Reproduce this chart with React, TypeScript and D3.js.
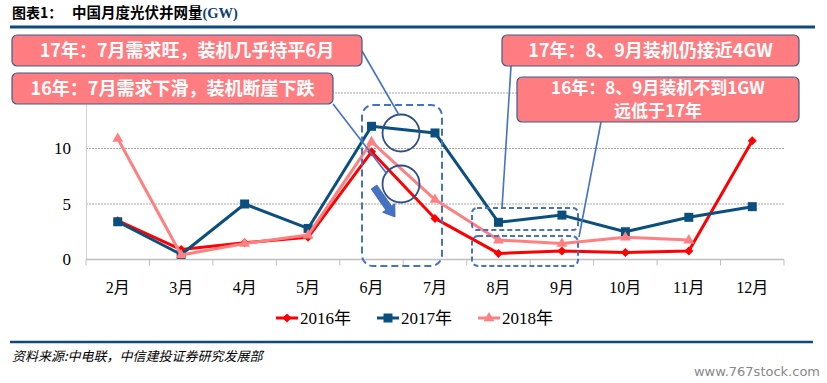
import React from "react";
import * as d3 from "d3";

const months = ["2月", "3月", "4月", "5月", "6月", "7月", "8月", "9月", "10月", "11月", "12月"];
const s2016 = [3.5, 0.9, 1.5, 2.0, 9.7, 3.7, 0.55, 0.77, 0.62, 0.77, 10.7];
const s2017 = [3.4, 0.45, 5.0, 2.8, 12.0, 11.4, 3.35, 4.0, 2.5, 3.8, 4.76];
const s2018: (number | null)[] = [10.9, 0.4, 1.45, 2.2, 10.6, 5.4, 1.75, 1.45, 2.0, 1.75, null];
const yGrid = [5, 10, 15];
const yTickLabels = [0, 5, 10];
const seriesNames = ["2016年", "2017年", "2018年"];
const colors = ["#FF0000", "#0B4F7F", "#FF8080"];

const W = 827;
const H = 383;
const x = d3.scaleBand<string>().domain(months).range([86, 784]).padding(0);
const y = d3.scaleLinear().domain([0, 15]).range([259.5, 93]);

const serif = "'Liberation Serif', 'Times New Roman', 'Noto Sans CJK SC', serif";
const sans = "'Noto Sans CJK SC', 'Microsoft YaHei', sans-serif";

function cx(m: string) {
  return (x(m) as number) + x.bandwidth() / 2;
}

function Marker({ type, px, py, color }: { type: number; px: number; py: number; color: string }) {
  if (type === 0) {
    const r = 4.5;
    return <path d={`M${px},${py - r}L${px + r},${py}L${px},${py + r}L${px - r},${py}Z`} fill={color} />;
  }
  if (type === 1) {
    const s = 9;
    return <rect x={px - s / 2} y={py - s / 2} width={s} height={s} fill={color} />;
  }
  const r = 6;
  return (
    <path
      d={`M${px},${py - r}L${px + r * 0.9},${py + r * 0.55}L${px - r * 0.9},${py + r * 0.55}Z`}
      fill={color}
    />
  );
}

function blockArrow(x1: number, y1: number, x2: number, y2: number, sw: number, hw: number, hl: number) {
  const dx = x2 - x1;
  const dy = y2 - y1;
  const len = Math.hypot(dx, dy);
  const ux = dx / len;
  const uy = dy / len;
  const nx = -uy;
  const ny = ux;
  const bx = x2 - ux * hl;
  const by = y2 - uy * hl;
  const pts = [
    [x1 + nx * sw / 2, y1 + ny * sw / 2],
    [bx + nx * sw / 2, by + ny * sw / 2],
    [bx + nx * hw / 2, by + ny * hw / 2],
    [x2, y2],
    [bx - nx * hw / 2, by - ny * hw / 2],
    [bx - nx * sw / 2, by - ny * sw / 2],
    [x1 - nx * sw / 2, y1 - ny * sw / 2],
  ];
  return "M" + pts.map((p) => p.join(",")).join("L") + "Z";
}

export default function App() {
  const allSeries = [s2016, s2017, s2018];
  const line = d3
    .line<number | null>()
    .defined((d) => d !== null)
    .x((_, i) => cx(months[i]))
    .y((d) => y(d as number));

  const callouts = [
    { x: 12, y: 35, w: 350, h: 31, fs: 18, lines: ["17年：7月需求旺，装机几乎持平6月"] },
    { x: 12, y: 73, w: 321, h: 31, fs: 18, lines: ["16年：7月需求下滑，装机断崖下跌"] },
    { x: 502, y: 35, w: 297, h: 31, fs: 18, lines: ["17年：8、9月装机仍接近4GW"] },
    { x: 517, y: 77, w: 282, h: 45, fs: 17, lines: ["16年：8、9月装机不到1GW", "远低于17年"] },
  ];

  const legendX = [276, 377, 478];

  return (
    <svg width={W} height={H} style={{ display: "block", position: "absolute", left: 0, top: 0 }}>
      <rect width={W} height={H} fill="#fff" />
      {/* Header */}
      <text x={12} y={18} fontFamily={sans} fontWeight="bold" fontSize={14} fill="#000">
        图表1：
      </text>
      <text x={72} y={18} fontFamily={sans} fontWeight="bold" fontSize={14.5} fill="#000">
        中国月度光伏并网量
        <tspan fontFamily={serif} fill="#0D3F73">(GW)</tspan>
      </text>
      <line x1={10} x2={815} y1={27} y2={27} stroke="#0D4A7E" strokeWidth={3} />

      {/* gridlines */}
      {yGrid.map((t) => (
        <line key={t} x1={86} x2={784} y1={y(t)} y2={y(t)} stroke="#A6A6A6" strokeWidth={1} strokeDasharray="2,1" />
      ))}
      {/* axes */}
      <line x1={86.5} x2={86.5} y1={y(15)} y2={y(0)} stroke="#D0D0D0" strokeWidth={1} />
      <line x1={86} x2={784} y1={y(0)} y2={y(0)} stroke="#BFBFBF" strokeWidth={1.5} />
      {months.map((m) => (
        <line key={m} x1={x(m) as number} x2={x(m) as number} y1={y(0)} y2={y(0) + 6} stroke="#BFBFBF" strokeWidth={1} />
      ))}
      <line x1={784} x2={784} y1={y(0)} y2={y(0) + 6} stroke="#BFBFBF" strokeWidth={1} />
      {yTickLabels.map((t) => (
        <text key={t} x={71} y={y(t)} dy="0.35em" textAnchor="end" fontFamily={serif} fontSize={17} fill="#000">
          {t}
        </text>
      ))}
      {months.map((m) => (
        <text key={m} x={cx(m)} y={293} textAnchor="middle" fontFamily={serif} fontSize={16} fill="#000">
          {m}
        </text>
      ))}

      {/* series */}
      {allSeries.map((s, si) => (
        <g key={si}>
          <path d={line(s) || ""} fill="none" stroke={colors[si]} strokeWidth={3} strokeLinejoin="round" />
          {s.map((v, i) =>
            v === null ? null : <Marker key={i} type={si} px={cx(months[i])} py={y(v)} color={colors[si]} />
          )}
        </g>
      ))}

      {/* dashed boxes */}
      <rect x={362} y={105} width={80} height={161} rx={11} fill="none" stroke="#4472C4" strokeWidth={2} strokeDasharray="7,4" />
      <rect x={472} y={208} width={106} height={22} rx={5} fill="none" stroke="#4472C4" strokeWidth={2} strokeDasharray="5,3" />
      <rect x={472} y={236} width={106} height={30} rx={6} fill="none" stroke="#4472C4" strokeWidth={2} strokeDasharray="5,3" />

      {/* circles */}
      <circle cx={401} cy={133} r={18.5} fill="none" stroke="#2F4E8C" strokeWidth={1.8} />
      <circle cx={401} cy={184} r={18.5} fill="none" stroke="#2F4E8C" strokeWidth={1.8} />
      {/* arrow */}
      <path d={blockArrow(374, 187, 395, 217, 7, 15, 11)} fill="#4472C4" stroke="#3A62A8" strokeWidth={0.8} />

      {/* leader lines */}
      <line x1={362} y1={51} x2={399} y2={115} stroke="#4472C4" strokeWidth={1.6} />
      <line x1={333} y1={104} x2={387} y2={174} stroke="#4472C4" strokeWidth={1.6} />
      <line x1={511} y1={66} x2={502} y2={208} stroke="#4472C4" strokeWidth={1.6} />
      <line x1={601} y1={122} x2={579} y2={237} stroke="#4472C4" strokeWidth={1.6} />

      {/* callout boxes */}
      {callouts.map((c, i) => (
        <g key={i}>
          <rect x={c.x} y={c.y} width={c.w} height={c.h} rx={5} fill="#FF7C80" stroke="#3E5C8A" strokeWidth={1.2} />
          {c.lines.map((l, li) => (
            <text
              key={li}
              x={c.x + c.w / 2}
              y={c.y + (c.lines.length === 1 ? c.h / 2 : 11 + li * 23)}
              dy="0.36em"
              textAnchor="middle"
              fontFamily={sans}
              fontWeight="bold"
              fontSize={c.fs}
              fill="#fff"
            >
              {l}
            </text>
          ))}
        </g>
      ))}

      {/* legend */}
      {seriesNames.map((n, i) => (
        <g key={n}>
          <line x1={legendX[i]} x2={legendX[i] + 22} y1={318} y2={318} stroke={colors[i]} strokeWidth={3} />
          <Marker type={i} px={legendX[i] + 11} py={318} color={colors[i]} />
          <text x={legendX[i] + 24} y={318} dy="0.35em" fontFamily={serif} fontSize={17} fill="#000">
            {n}
          </text>
        </g>
      ))}

      {/* footer */}
      <line x1={10} x2={813} y1={342} y2={342} stroke="#0D4A7E" strokeWidth={2.5} />
      <text x={12} y={356} dy="0.35em" fontFamily={sans} fontStyle="italic" fontSize={13} fill="#000">
        资料来源:中电联，中信建投证券研究发展部
      </text>
      <text x={820} y={371} dy="0.35em" textAnchor="end" fontFamily="'DejaVu Sans', sans-serif" fontSize={13} fill="#888">
        www.767stock.com
      </text>
    </svg>
  );
}
